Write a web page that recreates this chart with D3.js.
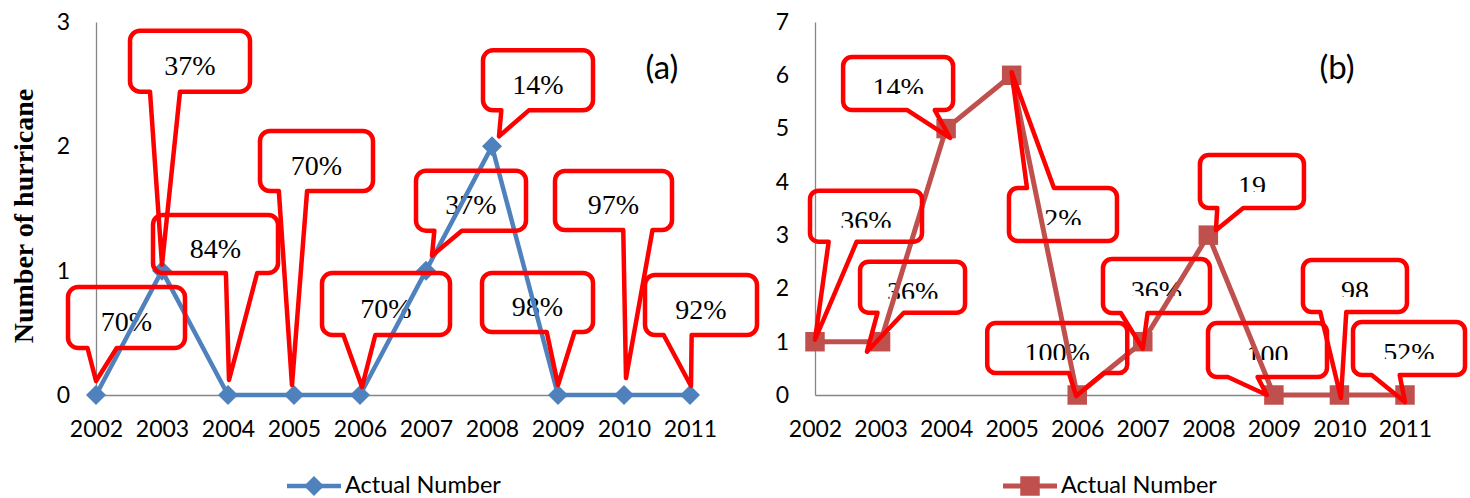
<!DOCTYPE html>
<html>
<head>
<meta charset="utf-8">
<script src="https://cdn.jsdelivr.net/npm/d3@7"></script>
<style>
  html, body { margin: 0; padding: 0; background: #ffffff; }
  svg { display: block; }
</style>
</head>
<body>
<svg id="chart" width="1470" height="498"></svg>
<script>
// ---------------- data ----------------
const years = ["2002","2003","2004","2005","2006","2007","2008","2009","2010","2011"];
const valuesA = [0, 1, 0, 0, 0, 1, 2, 0, 0, 0];
const valuesB = [1, 1, 5, 6, 0, 1, 3, 0, 0, 0];
const labelsA = ["70%","37%","84%","70%","70%","37%","14%","98%","97%","92%"];
const labelsB = ["36%","36%","14%","2%","100%","36%","19","100","98","52%"];
const yTicksA = [0, 1, 2, 3];
const yTicksB = [0, 1, 2, 3, 4, 5, 6, 7];
const seriesName = "Actual Number";
const panelTags = ["(a)", "(b)"];
const yTitle = "Number of hurricane";

// ---------------- layout (callout placement relative to its point, px) ----------------
// [box centre dx, box centre dy, box width, box height, tip dx, tip dy]
const calloutLayoutA = [
  [30.5,-77.5,117,61,0,-14],
  [28,-209.5,120,61,0,-6],
  [-12.5,-151,125,58,1,-15],
  [22.5,-234,113,60,-2,-10],
  [26,-91,128,62,2,-8],
  [45,-70,110,60,6,-15],
  [46,-66,110,60,7,-10],
  [-20.5,-92.5,111,59,0,-10],
  [-10.5,-194.5,117,59,2,-17],
  [11,-90,112,60,1,-9]
];
const calloutLayoutB = [
  [51,-125.5,112,51,0,-2],
  [32,-54.5,105,51,-13.6,10],
  [-48,-45,110,53,4,9.4],
  [51.3,139.2,108,53,0,-3],
  [-20,-47,140,50,-1,1],
  [13.7,-55.7,107,54,0,7],
  [43.6,-53.6,104,53,7.6,-5],
  [-6.4,-45,119,54,-7,0],
  [15.5,-109,104,52,1.5,3],
  [4,-46.5,112,53,0,7]
];

const svg = d3.select("#chart");
svg.append("rect").attr("width",1470).attr("height",498).attr("fill","#fff");
const defs = svg.append("defs");

const sansFont = "Lato, 'Open Sans', sans-serif";
const serifFont = "'Liberation Serif', 'DejaVu Serif', serif";

function calloutPath(x0, y0, w, h, tx, ty) {
  const x1 = x0 + w, y1 = y0 + h;
  const r = Math.min(w, h) / 6;
  const cx = x0 + w / 2, cy = y0 + h / 2;
  const dx = tx - cx, dy = ty - cy;
  const dq = dx * h / w;
  const p = d3.path();
  if (Math.abs(dy) > Math.abs(dq)) {
    const b1 = x0 + w * (dx > 0 ? 7 : 2) / 12;
    const b2 = x0 + w * (dx > 0 ? 10 : 5) / 12;
    p.moveTo(x0 + r, y0);
    if (dy < 0) { p.lineTo(b1, y0); p.lineTo(tx, ty); p.lineTo(b2, y0); }
    p.lineTo(x1 - r, y0);
    p.arcTo(x1, y0, x1, y0 + r, r);
    p.lineTo(x1, y1 - r);
    p.arcTo(x1, y1, x1 - r, y1, r);
    if (dy > 0) { p.lineTo(b2, y1); p.lineTo(tx, ty); p.lineTo(b1, y1); }
    p.lineTo(x0 + r, y1);
    p.arcTo(x0, y1, x0, y1 - r, r);
    p.lineTo(x0, y0 + r);
    p.arcTo(x0, y0, x0 + r, y0, r);
  } else {
    const c1 = y0 + h * (dy > 0 ? 7 : 2) / 12;
    const c2 = y0 + h * (dy > 0 ? 10 : 5) / 12;
    p.moveTo(x0 + r, y0);
    p.lineTo(x1 - r, y0);
    p.arcTo(x1, y0, x1, y0 + r, r);
    if (dx > 0) { p.lineTo(x1, c1); p.lineTo(tx, ty); p.lineTo(x1, c2); }
    p.lineTo(x1, y1 - r);
    p.arcTo(x1, y1, x1 - r, y1, r);
    p.lineTo(x0 + r, y1);
    p.arcTo(x0, y1, x0, y1 - r, r);
    if (dx < 0) { p.lineTo(x0, c2); p.lineTo(tx, ty); p.lineTo(x0, c1); }
    p.lineTo(x0, y0 + r);
    p.arcTo(x0, y0, x0 + r, y0, r);
  }
  p.closePath();
  return p.toString();
}

function drawPanel(cfg) {
  const g = svg.append("g");
  const x = d3.scalePoint().domain(years).range(cfg.xRange).padding(0);
  const y = d3.scaleLinear().domain([0, d3.max(cfg.yTicks)]).range([395, 22]);

  // y axis
  const yAxis = g.append("g").attr("transform", `translate(${cfg.xRange[0]},0)`)
    .call(d3.axisLeft(y).tickValues(cfg.yTicks).tickFormat(d3.format("d")).tickSize(0).tickSizeOuter(0).tickPadding(cfg.yPad));
  yAxis.select(".domain").attr("stroke", "#868686").attr("stroke-width", 1.3);
  yAxis.selectAll("text").attr("font-family", sansFont).attr("font-size", 23).attr("fill", "#000");

  // x axis
  const xAxis = g.append("g").attr("transform", `translate(0,${y(0)})`)
    .call(d3.axisBottom(x).tickSize(0).tickSizeOuter(0).tickPadding(26));
  xAxis.select(".domain").attr("stroke", "#868686").attr("stroke-width", 1.3);
  xAxis.selectAll("text").attr("font-family", sansFont).attr("font-size", 23).attr("fill", "#000");

  const pts = years.map((yr, i) => ({ yr, v: cfg.values[i], px: x(yr), py: y(cfg.values[i]), label: cfg.labels[i], lay: cfg.layout[i], i }));
  pts.forEach(d => {
    const [dx, dy, w, h, tdx, tdy] = d.lay;
    d.bx = d.px + dx - w / 2; d.by = d.py + dy - h / 2; d.bw = w; d.bh = h;
    d.tx = d.px + tdx; d.ty = d.py + tdy;
  });

  // callout texts (beneath line)
  if (cfg.clipText) {
    pts.forEach(d => {
      defs.append("clipPath").attr("id", `clip-${cfg.id}-${d.i}`)
        .append("rect").attr("x", d.bx).attr("y", d.by).attr("width", d.bw).attr("height", 37);
    });
  }
  g.append("g").selectAll("text").data(pts).join("text")
    .attr("x", d => d.bx + d.bw / 2)
    .attr("y", d => d.by + d.bh / 2 + 13.5)
    .attr("text-anchor", "middle")
    .attr("font-family", serifFont).attr("font-size", 28).attr("fill", "#000")
    .attr("clip-path", d => cfg.clipText ? `url(#clip-${cfg.id}-${d.i})` : null)
    .text(d => d.label);

  // series line
  const line = d3.line().x(d => d.px).y(d => d.py);
  g.append("path").datum(pts).attr("d", line)
    .attr("fill", "none").attr("stroke", cfg.color).attr("stroke-width", cfg.lineWidth)
    .attr("stroke-linejoin", "round");
  g.append("g").selectAll("path").data(pts).join("path")
    .attr("d", d3.symbol(d3.symbolSquare, cfg.markerArea)())
    .attr("transform", d => `translate(${d.px},${d.py}) rotate(${cfg.markerRotate})`)
    .attr("fill", cfg.color);

  // callout outlines
  g.append("g").selectAll("path").data(pts).join("path")
    .attr("d", d => calloutPath(d.bx, d.by, d.bw, d.bh, d.tx, d.ty))
    .attr("fill", "none").attr("stroke", "#ff0000").attr("stroke-width", 4.5)
    .attr("stroke-linejoin", "round");

  // panel tag
  g.append("text").attr("x", cfg.tagX).attr("y", 79).attr("text-anchor", "middle")
    .attr("font-family", sansFont).attr("font-size", 33).attr("fill", "#000").text(cfg.tag);

  // legend
  const lg = g.append("g").attr("transform", `translate(${cfg.legendX},486)`);
  lg.append("line").attr("x1", 0).attr("x2", 54).attr("y1", 0).attr("y2", 0)
    .attr("stroke", cfg.color).attr("stroke-width", cfg.lineWidth);
  lg.append("path").attr("d", d3.symbol(d3.symbolSquare, cfg.markerArea)())
    .attr("transform", `translate(27,0) rotate(${cfg.markerRotate})`).attr("fill", cfg.color);
  lg.append("text").attr("x", 58).attr("y", 7).attr("font-family", sansFont)
    .attr("font-size", 23.5).attr("fill", "#000").text(seriesName);
}

drawPanel({ id: "a", xRange: [96, 690], yTicks: yTicksA, values: valuesA, labels: labelsA,
  layout: calloutLayoutA, color: "#4f81bd", lineWidth: 4.5, markerArea: 200, markerRotate: 45,
  yPad: 26, tag: panelTags[0], tagX: 662, legendX: 287, clipText: false });
drawPanel({ id: "b", xRange: [815, 1405], yTicks: yTicksB, values: valuesB, labels: labelsB,
  layout: calloutLayoutB, color: "#c0504d", lineWidth: 5, markerArea: 380, markerRotate: 0,
  yPad: 26, tag: panelTags[1], tagX: 1337, legendX: 1003, clipText: true });

// y axis title
svg.append("text").attr("transform", "translate(33,216) rotate(-90)")
  .attr("text-anchor", "middle").attr("font-family", serifFont).attr("font-weight", "bold")
  .attr("font-size", 28).attr("fill", "#000").text(yTitle);
</script>
</body>
</html>
